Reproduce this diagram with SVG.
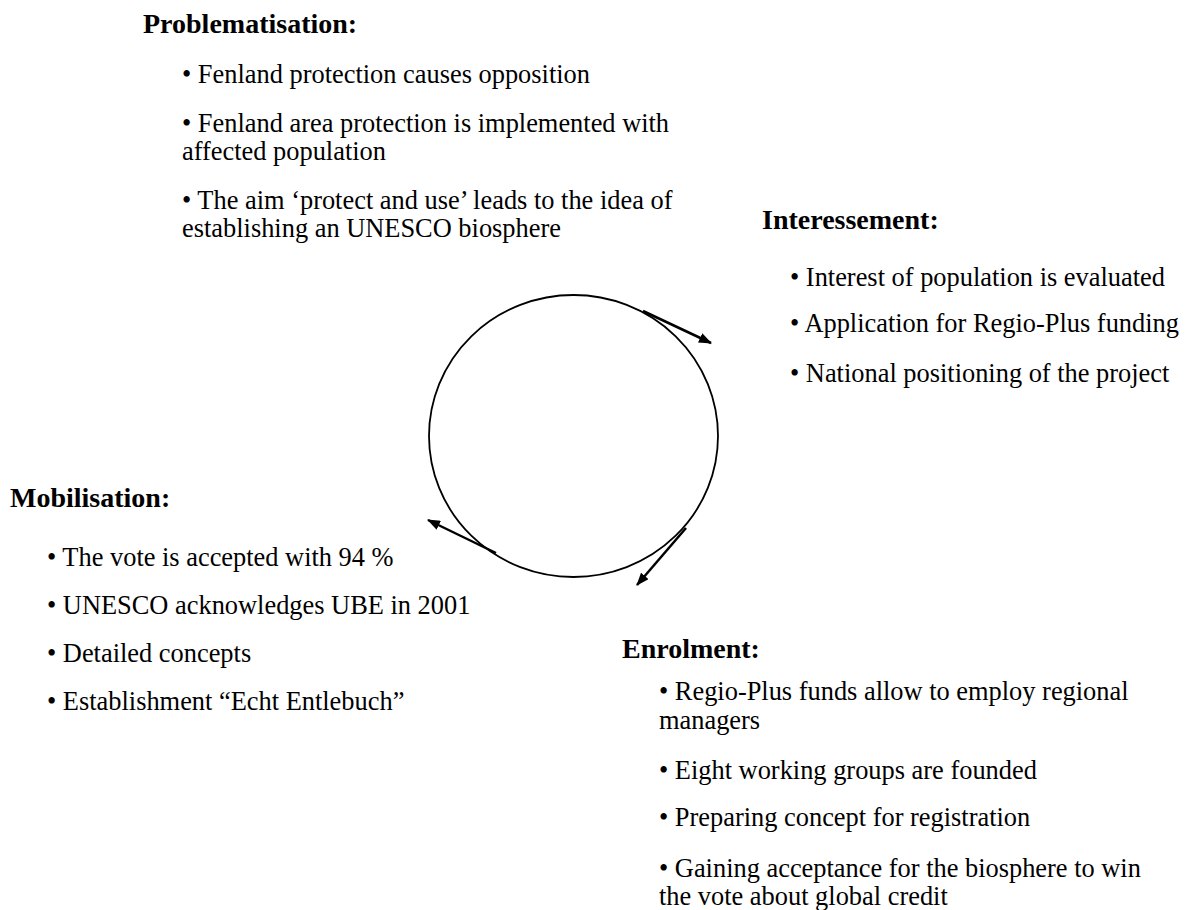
<svg xmlns="http://www.w3.org/2000/svg" width="1195" height="910" viewBox="0 0 1195 910">
<style>
text{font-family:"Liberation Serif","Times New Roman",serif;fill:#000}
.h{font-size:28px;font-weight:bold}
.b{font-size:26.4px}
.c{fill:none;stroke:#000;stroke-width:1.8}
.a{fill:none;stroke:#000;stroke-width:2.5;marker-end:url(#ah)}
</style>
<defs>
<marker id="ah" viewBox="0 0 13 10" refX="12" refY="5" markerWidth="13" markerHeight="10" markerUnits="userSpaceOnUse" orient="auto"><path d="M0,0 L13,5 L0,10 z" fill="#000"/></marker>
</defs>
<rect width="1195" height="910" fill="#fff"/>
<g id="cycle">
<ellipse class="c" cx="573.5" cy="436" rx="144.5" ry="141"/>
</g>
<g id="connectors">
<line class="a" x1="643" y1="311" x2="711" y2="343"/>
<line class="a" x1="686" y1="528" x2="637" y2="585"/>
<line class="a" x1="496" y1="553" x2="428" y2="520"/>
</g>
<g id="problematisation">
<text class="h" x="143" y="33">Problematisation:</text>
<text class="b" x="182" y="83">• Fenland protection causes opposition</text>
<text class="b" x="182" y="132">• Fenland area protection is implemented with</text>
<text class="b" x="182" y="160">affected population</text>
<text class="b" x="182" y="209">• The aim ‘protect and use’ leads to the idea of</text>
<text class="b" x="182" y="237">establishing an UNESCO biosphere</text>
</g>
<g id="interessement">
<text class="h" x="762" y="229">Interessement:</text>
<text class="b" x="790" y="286">• Interest of population is evaluated</text>
<text class="b" x="790" y="332">• Application for Regio-Plus funding</text>
<text class="b" x="790" y="382">• National positioning of the project</text>
</g>
<g id="mobilisation">
<text class="h" x="10" y="507">Mobilisation:</text>
<text class="b" x="47" y="566">• The vote is accepted with 94 %</text>
<text class="b" x="47" y="614">• UNESCO acknowledges UBE in 2001</text>
<text class="b" x="47" y="662">• Detailed concepts</text>
<text class="b" x="47" y="710">• Establishment “Echt Entlebuch”</text>
</g>
<g id="enrolment">
<text class="h" x="622" y="658">Enrolment:</text>
<text class="b" x="659" y="700">• Regio-Plus funds allow to employ regional</text>
<text class="b" x="659" y="729">managers</text>
<text class="b" x="659" y="779">• Eight working groups are founded</text>
<text class="b" x="659" y="826">• Preparing concept for registration</text>
<text class="b" x="659" y="877">• Gaining acceptance for the biosphere to win</text>
<text class="b" x="659" y="905">the vote about global credit</text>
</g>
</svg>
